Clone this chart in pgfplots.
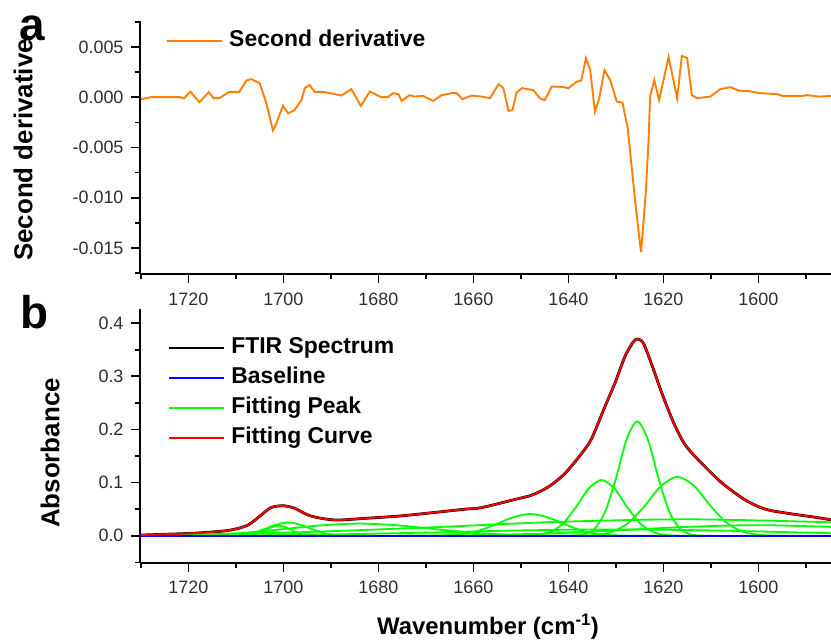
\documentclass[border=0pt]{standalone}
\usepackage{fontspec}
\setmainfont{Liberation Sans}
\usepackage{pgfplots}
\usepackage{pgfplotstable}
\pgfplotsset{compat=1.18}
\definecolor{origorange}{RGB}{255,128,0}
\definecolor{tickgray}{RGB}{45,45,45}
\definecolor{fitgreen}{RGB}{0,255,0}

\pgfplotstableread{
w v
1730.0 -0.0002
1727.9 0.0000
1721.9 0.0000
1720.9 -0.0001
1719.6 0.00056
1717.7 -0.0005
1715.7 0.0005
1714.7 -0.0001
1713.5 -0.0001
1711.4 0.00053
1709.3 0.00053
1707.8 0.00165
1706.8 0.0018
1705.0 0.0014
1703.6 -0.0006
1702.2 -0.0033
1701.5 -0.0026
1700.1 -0.00086
1699.0 -0.0016
1697.7 -0.0013
1696.2 -0.0003
1695.5 0.0009
1694.5 0.0012
1693.4 0.0005
1691.3 0.0005
1689.2 0.0003
1687.8 0.00016
1685.7 0.0008
1683.7 -0.00086
1681.8 0.00056
1679.4 0.0000
1678.0 0.0000
1676.9 0.0004
1675.8 0.0003
1675.1 -0.00037
1673.4 0.0002
1672.4 0.00006
1670.6 0.00013
1668.5 -0.00037
1666.7 0.0002
1664.6 0.0004
1663.5 0.0004
1662.3 -0.0002
1660.4 0.00016
1658.3 0.00006
1656.5 -0.0001
1654.7 0.0013
1653.7 0.0009
1652.6 -0.00136
1651.8 -0.0013
1650.9 0.00046
1649.8 0.0009
1647.4 0.0007
1646.0 -0.0001
1645.0 -0.0003
1643.5 0.00105
1642.4 0.00105
1641.0 0.0010
1640.0 0.0009
1638.2 0.00155
1637.3 0.00165
1636.3 0.00387
1635.4 0.0027
1634.4 -0.00143
1633.5 -0.0001
1632.4 0.0027
1631.2 0.0017
1629.8 -0.00044
1628.6 -0.00054
1627.5 -0.0031
1625.9 -0.0105
1624.7 -0.0154
1623.7 -0.0095
1623.1 -0.0042
1622.8 0.00006
1621.9 0.0017
1620.9 -0.0003
1618.9 0.0040
1617.1 -0.0001
1616.1 0.0041
1615.0 0.0039
1614.0 0.0002
1612.9 -0.0001
1610.1 0.00006
1608.0 0.0008
1605.9 0.0010
1604.1 0.00065
1602.0 0.0006
1599.6 0.0004
1596.0 0.0003
1595.0 0.00013
1590.8 0.00013
1589.7 0.0002
1587.2 0.00006
1584.4 0.00013
}\derivtable

\pgfplotstableread{
w a
1730.0 0.0013
1724.5 0.0030
1719.5 0.0045
1714.5 0.0075
1711.0 0.0110
1707.5 0.0200
1704.7 0.0390
1702.6 0.0530
1700.1 0.0565
1697.7 0.0520
1694.8 0.0390
1692.0 0.0328
1688.5 0.0296
1682.9 0.0328
1675.8 0.0370
1668.8 0.0433
1661.8 0.0500
1658.3 0.0530
1651.2 0.0685
1647.7 0.0766
1644.2 0.0920
1640.7 0.1175
1637.2 0.1550
1635.1 0.1830
1632.3 0.2430
1630.2 0.2870
1628.1 0.3370
1626.3 0.3650
1625.4 0.3700
1624.2 0.3620
1622.4 0.3210
1620.3 0.2680
1617.8 0.2120
1615.4 0.1710
1611.9 0.1360
1607.6 0.0990
1602.7 0.0670
1598.5 0.0500
1593.6 0.0420
1587.9 0.0347
1584.4 0.0296
}\ftirtable

\pgfplotsset{
  myaxis/.style={
    scale only axis, width=691bp, height=253.6bp,
    x dir=reverse, xmin=1584.7, xmax=1730.2,
    axis lines*=left,
    axis line style={line width=1.8bp},
    every tick/.style={black, line width=1.6bp},
    tick align=outside,
    major tick length=9bp, minor tick length=5bp,
    xtick={1600,1620,1640,1660,1680,1700,1720},
    minor xtick={1590,1610,1630,1650,1670,1690,1710,1730},
    tick label style={font=\fontsize{18}{18}\selectfont, text=tickgray},
    /pgf/number format/assume math mode=true,
    x tick label style={/pgf/number format/1000 sep={}, yshift=-6bp},
    scaled ticks=false,
    clip=true,
    legend cell align=left,
    legend style={draw=none, fill=none, inner sep=0pt, outer sep=0pt,
      nodes={inner sep=0pt, text height=17bp, text depth=5bp},
      row sep=8bp,
      font=\bfseries\fontsize{23}{23}\selectfont, anchor=north west},
    legend image code/.code={\path[draw=none] (0bp,-8.2bp) -- (62bp,-8.2bp); \draw[##1, line width=2bp] (0bp,0bp) -- (55bp,0bp);},
  }
}

\begin{document}
\begin{tikzpicture}
\useasboundingbox (0,0) rectangle (831bp,-643bp);

\begin{axis}[myaxis, at={(140bp,-20.7bp)}, anchor=north west,
  ymin=-0.0176, ymax=0.0076,
  ytick={-0.015,-0.01,-0.005,0,0.005},
  minor ytick={-0.0175,-0.0125,-0.0075,-0.0025,0.0025,0.0075},
  y tick label style={/pgf/number format/.cd, fixed, fixed zerofill, precision=3, /tikz/xshift=-4bp},
  legend style={at={(rel axis cs:0.038,0.965)}}]
\addplot[origorange, line width=1.9bp] table[x=w, y=v] {\derivtable};
\addlegendentry{Second derivative}
\end{axis}

\begin{axis}[myaxis, at={(140bp,-309.3bp)}, anchor=north west,
  ymin=-0.051, ymax=0.426,
  ytick={0,0.1,0.2,0.3,0.4},
  minor ytick={-0.05,0.05,0.15,0.25,0.35},
  y tick label style={/pgf/number format/.cd, fixed, fixed zerofill, precision=1, /tikz/xshift=-4bp},
  legend style={at={(rel axis cs:0.041,0.8915)}}]
\addlegendimage{black}
\addlegendentry{FTIR Spectrum}
\addlegendimage{blue}
\addlegendentry{Baseline}
\addlegendimage{fitgreen}
\addlegendentry{Fitting Peak}
\addlegendimage{red}
\addlegendentry{Fitting Curve}
% FTIR spectrum
\addplot[black, line width=2.8bp, smooth, tension=0.5, forget plot] table[x=w, y=a] {\ftirtable};
% fitting peaks
\addplot[fitgreen, line width=1.8bp, smooth, forget plot] coordinates {
(1711.5,0) (1710,0.00004) (1708.5,0.00025) (1707,0.0012) (1705.5,0.0040) (1704,0.0095) (1702.5,0.0160) (1701,0.019) (1699.5,0.0160) (1698,0.0095) (1696.5,0.0040) (1695,0.0012) (1693.5,0.00025) (1692,0.00004) (1690.5,0)};
\addplot[fitgreen, line width=1.8bp, smooth, forget plot] coordinates {
(1716.5,0) (1714,0.00005) (1711.5,0.00033) (1709,0.0016) (1706.5,0.00525) (1704,0.0125) (1701.5,0.0210) (1699,0.025) (1696.5,0.0210) (1694,0.0125) (1691.5,0.00525) (1689,0.0016) (1686.5,0.00033) (1684,0.00005) (1681.5,0)};
\addplot[fitgreen, line width=1.8bp, smooth, forget plot] coordinates {
(1730,0.0001) (1726.5,0.0003) (1718,0.0014) (1709.5,0.0048) (1701,0.0115) (1692.5,0.0193) (1684,0.023) (1675.5,0.0193) (1667,0.0115) (1658.5,0.0048) (1650,0.0014) (1641.5,0.0003) (1633,0.00004) (1624.5,0)};
\addplot[fitgreen, line width=1.8bp, smooth, forget plot] coordinates {
(1674.25,0.00001) (1670.5,0.00008) (1666.75,0.00054) (1663,0.0026) (1659.25,0.0086) (1655.5,0.0205) (1651.75,0.0345) (1648,0.041) (1644.25,0.0345) (1640.5,0.0205) (1636.75,0.0086) (1633,0.0026) (1629.25,0.00054) (1625.5,0.00008) (1621.75,0)};
\addplot[fitgreen, line width=1.8bp, smooth, forget plot] coordinates {
(1652.25,0.00002) (1649.5,0.0002) (1646.75,0.0014) (1644,0.0066) (1641.25,0.0221) (1638.5,0.0525) (1635.75,0.0883) (1633,0.105) (1630.25,0.0883) (1627.5,0.0525) (1624.75,0.0221) (1622,0.0066) (1619.25,0.0014) (1616.5,0.0002) (1613.75,0.00002)};
\addplot[fitgreen, line width=1.8bp, smooth, forget plot] coordinates {
(1641.25,0.00004) (1639,0.0004) (1636.75,0.0028) (1634.5,0.0134) (1632.25,0.0452) (1630,0.1075) (1627.75,0.1808) (1625.5,0.215) (1623.25,0.1808) (1621,0.1075) (1618.75,0.0452) (1616.5,0.0134) (1614.25,0.0028) (1612,0.0004) (1609.75,0.00004)};
\addplot[fitgreen, line width=1.8bp, smooth, forget plot] coordinates {
(1641.5,0.00002) (1638,0.0002) (1634.5,0.00145) (1631,0.0069) (1627.5,0.0233) (1624,0.0555) (1620.5,0.0934) (1617,0.111) (1613.5,0.0934) (1610,0.0555) (1606.5,0.0233) (1603,0.0069) (1599.5,0.00145) (1596,0.0002) (1592.5,0.00002)};
\addplot[fitgreen, line width=1.8bp, smooth, forget plot] coordinates {
(1730,0.0015) (1725,0.0019) (1697.5,0.0065) (1670,0.0155) (1642.5,0.0261) (1615,0.031) (1587.5,0.0261) (1584.7,0.025)};
\addplot[fitgreen, line width=1.8bp, smooth, forget plot] coordinates {
(1690,0.00004) (1675,0.0003) (1660,0.00125) (1645,0.0042) (1630,0.010) (1615,0.0168) (1600,0.020) (1584.7,0.0167)};
\addplot[fitgreen, line width=1.8bp, smooth, forget plot] coordinates {
(1730,0.00016) (1710,0.00075) (1690,0.0025) (1670,0.006) (1650,0.0101) (1630,0.012) (1610,0.0101) (1590,0.006) (1584.7,0.0049)};
% baseline
\addplot[blue, line width=2bp, forget plot] coordinates {(1730.2,0) (1584.7,0)};
% fitting curve
\addplot[red, line width=1.9bp, smooth, tension=0.5, forget plot] table[x=w, y=a] {\ftirtable};
\end{axis}

\node[rotate=90, font=\bfseries\fontsize{26}{26}\selectfont] at (23bp,-150bp) {Second derivative};
\node[rotate=90, font=\bfseries\fontsize{26}{26}\selectfont] at (50bp,-453bp) {Absorbance};
\node[font=\bfseries\fontsize{24}{24}\selectfont] at (488bp,-627bp) {Wavenumber (cm\textsuperscript{-1})};
\node[anchor=base west, inner sep=0pt, font=\bfseries\fontsize{46}{46}\selectfont] at (19bp,-40bp) {a};
\node[anchor=base west, inner sep=0pt, font=\bfseries\fontsize{46}{46}\selectfont] at (20bp,-328bp) {b};
\end{tikzpicture}
\end{document}
